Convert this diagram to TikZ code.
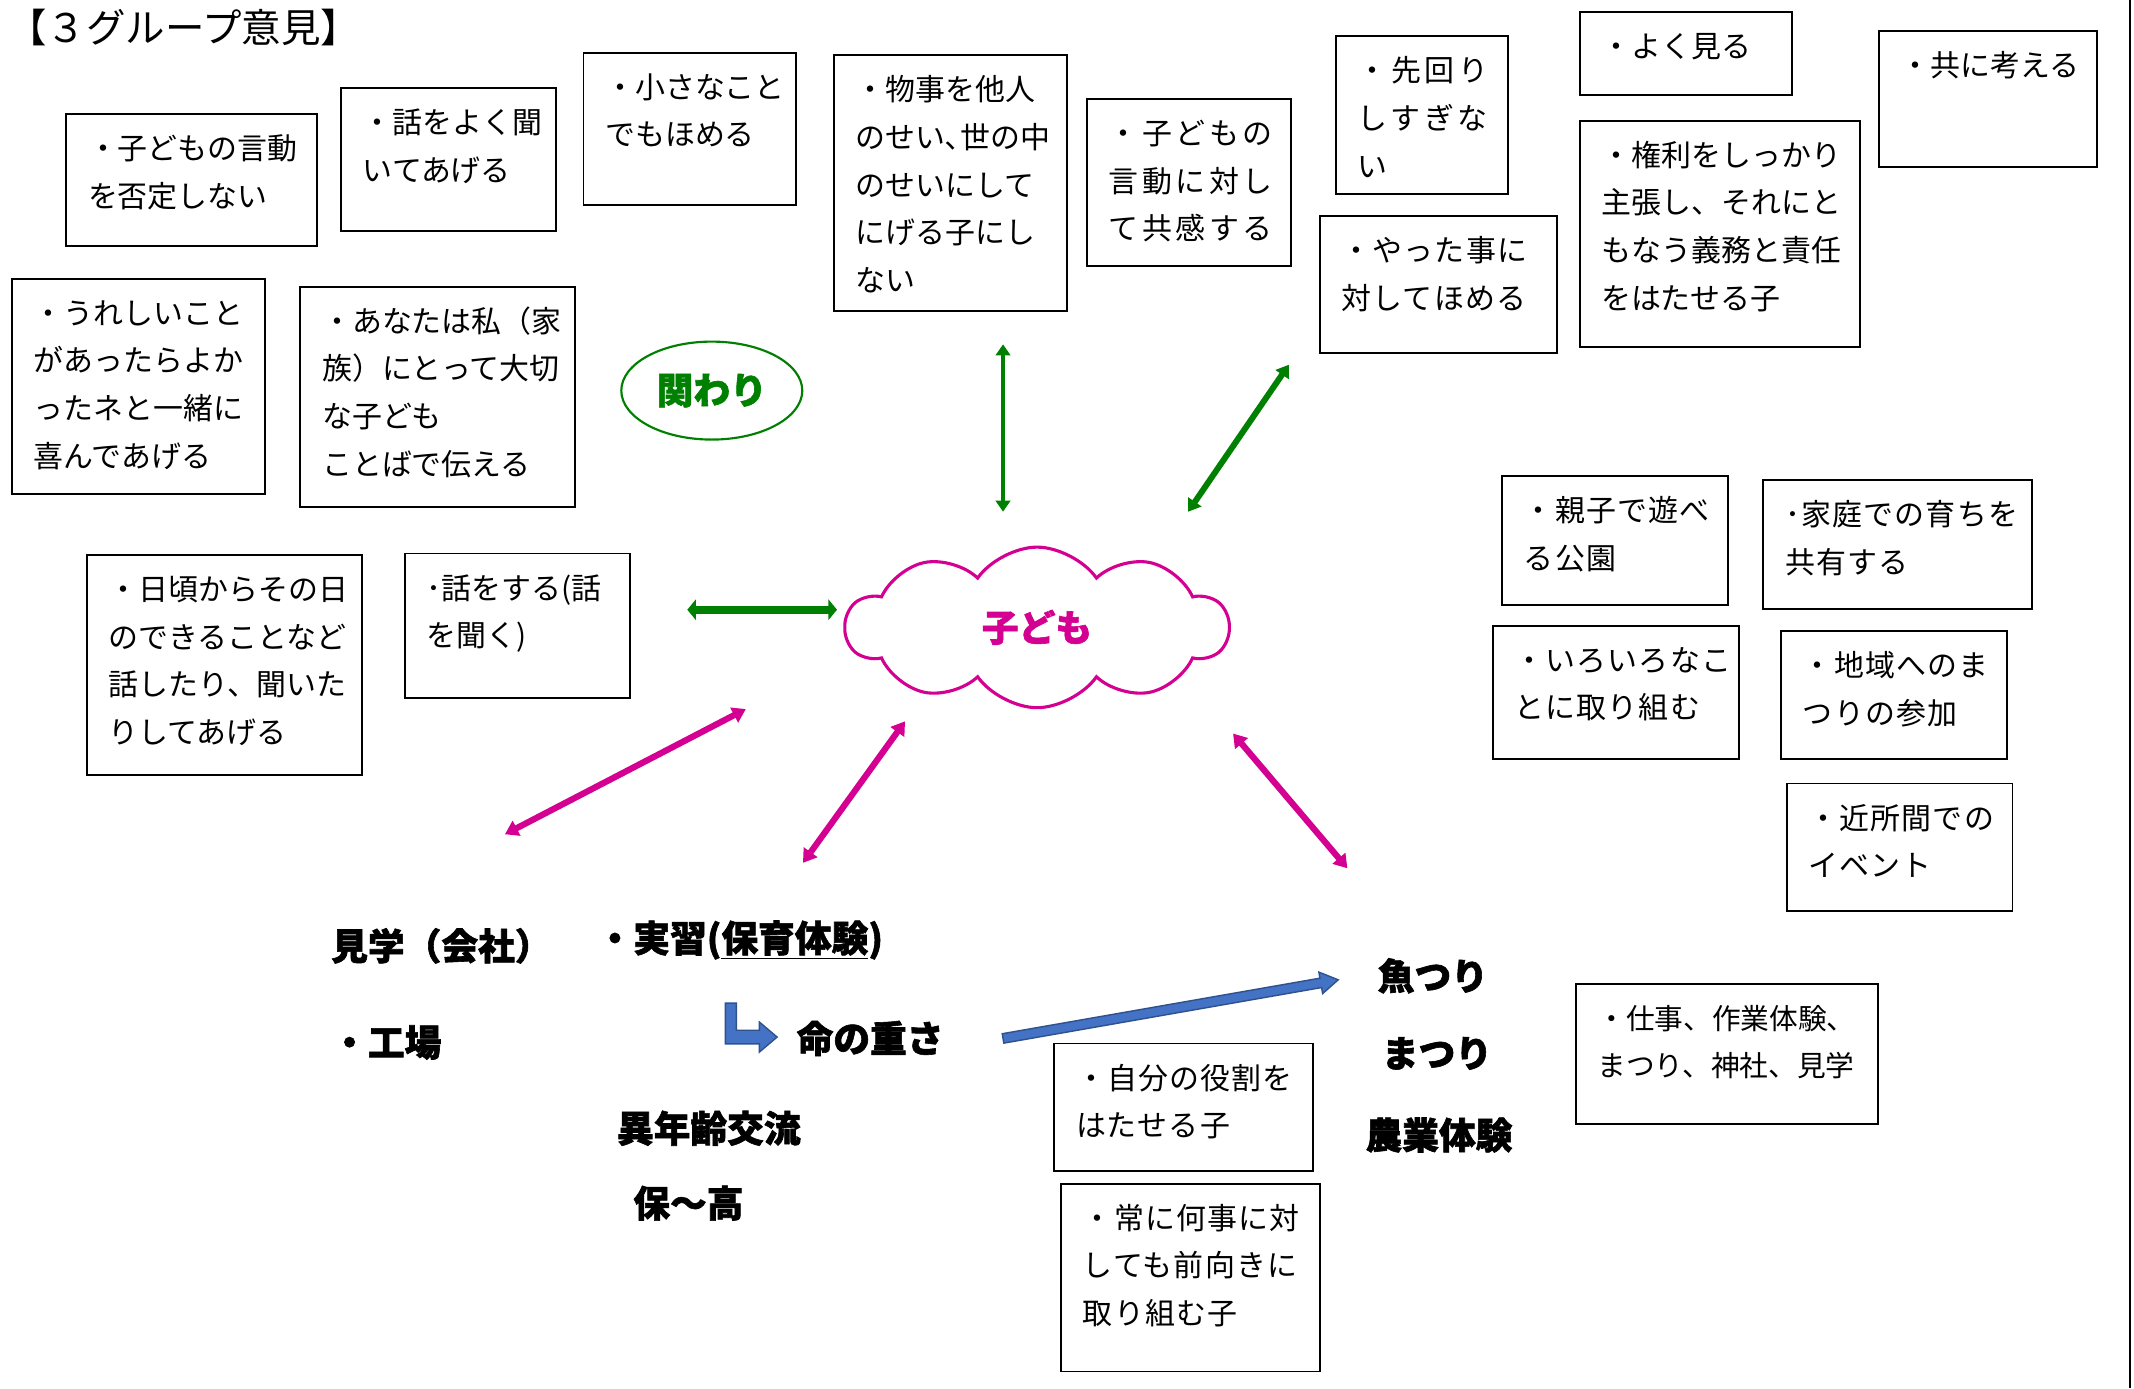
\documentclass[tikz,border=0pt]{standalone}
\usepackage{fontspec}
\setmainfont{Noto Sans CJK JP}[BoldFeatures={FakeBold=1.6}]
\newfontfamily\jsp{Noto Sans CJK JP}[LetterSpace=12]
\newfontfamily\jsq{Noto Sans CJK JP}[LetterSpace=4]
\usetikzlibrary{arrows.meta,shapes.geometric,shapes.symbols}
\newlength\un \setlength\un{0.02cm}
\definecolor{grn}{RGB}{0,128,0}
\definecolor{mag}{RGB}{212,0,145}
\definecolor{bfill}{RGB}{68,114,196}
\definecolor{bedge}{RGB}{47,82,143}
\newcommand\bx[3]{\parbox[c][\dimexpr#2\un-18\un\relax][t]{\dimexpr#1\un-32\un\relax}{\fontsize{12.52pt}{19.92pt}\selectfont\strut#3}}
\newcommand\bfj{\fontsize{15.36pt}{18pt}\selectfont\bfseries}
\tikzset{
  box/.style={draw, line width=0.8pt, inner xsep=0.32cm, inner ysep=0.18cm, anchor=north west},
  lbl/.style={anchor=west, inner sep=0pt, font=\bfj},
  garrv/.style={draw=grn, line width=1.9pt, >={Triangle[length=4.6pt,width=6pt]}, <->},
  garrd/.style={draw=grn, line width=2.5pt, >={Triangle[length=5pt,width=6.5pt]}, <->},
  garrh/.style={draw=grn, line width=3.4pt, >={Triangle[length=3.6pt,width=8.5pt]}, <->},
  marr/.style={draw=mag, line width=2.6pt, >={Triangle[length=5.5pt,width=6.8pt]}, <->}
}
\begin{document}
\begin{tikzpicture}[x=0.02cm,y=-0.02cm]
\fill[white] (0,0) rectangle (1568,1020);
\useasboundingbox (0,0) rectangle (1568,1020);
\draw[line width=1pt] (1565,0) -- (1565,1020);

% title
\node[anchor=west, inner sep=0pt, font=\fontsize{16.5pt}{20pt}\selectfont] (title) at (5,20) {【３グループ意見】};

% upper-left boxes
\node[box] (b1) at (48,83) {\bx{184}{97}{・子どもの言動\\を否定しない}};
\node[box] (b2) at (250,64) {\bx{158}{105}{・話をよく聞\\いてあげる}};
\node[box] (b3) at (428,38) {\bx{156}{112}{・小さなこと\\でもほめる}};
\node[box] (b4) at (612,40) {\bx{171}{188}{・物事を他人\\のせい､世の中\\のせいにして\\にげる子にし\\ない}};
\node[box] (b5) at (798,72) {\bx{150}{123}{\jsp ・子どもの\\言動に対し\\て共感する}};
\node[box] (b6) at (981,26) {\bx{126}{116}{\jsp ・先回り\\しすぎな\\い}};
\node[box] (b7) at (969,158) {\bx{174}{101}{\jsq ・やった事に\\対してほめる}};
\node[box] (b8) at (1160,8) {\bx{156}{61}{・よく見る}};
\node[box] (b9) at (1160,88) {\bx{206}{166}{・権利をしっかり\\主張し、それにと\\もなう義務と責任\\をはたせる子}};
\node[box] (b10) at (1380,22) {\bx{160}{100}{・共に考える}};
\node[box] (b11) at (8,204) {\bx{186}{158}{・うれしいこと\\があったらよか\\ったネと一緒に\\喜んであげる}};
\node[box] (b12) at (220,210) {\bx{202}{162}{・あなたは私（家\\族）にとって大切\\な子ども\\ことばで伝える}};
\node[box] (b14) at (63,407) {\bx{202}{162}{・日頃からその日\\のできることなど\\話したり、聞いた\\りしてあげる}};
\node[box] (b15) at (297,406) {\bx{165}{106}{･話をする(話\\を聞く)}};

% right boxes
\node[box] (b17) at (1103,349) {\bx{166}{95}{\jsq ・親子で遊べ\\る公園}};
\node[box] (b18) at (1295,352) {\bx{197}{95}{\jsq ･家庭での育ちを\\共有する}};
\node[box] (b19) at (1096,459) {\bx{181}{98}{\jsq ・いろいろなこ\\とに取り組む}};
\node[box] (b20) at (1308,463) {\bx{166}{94}{\jsq ・地域へのま\\つりの参加}};
\node[box] (b21) at (1312,575) {\bx{166}{94}{\jsq ・近所間での\\イベント}};
\node[box] (b22) at (1157,722) {\bx{222}{103}{\fontsize{12pt}{19.92pt}\selectfont ・仕事、作業体験、\\まつり、神社、見学}};
\node[box] (b23) at (774,766) {\bx{190}{94}{\jsq ・自分の役割を\\はたせる子}};
\node[box] (b24) at (779,869) {\bx{190}{138}{\jsq ・常に何事に対\\しても前向きに\\取り組む子}};

% ellipse and cloud
\node[ellipse, draw=grn, line width=0.9pt, minimum width=2.66cm, minimum height=1.44cm, inner sep=0pt, text=grn, font=\bfj] (kakawari) at (523,287) {関わり};
\node[cloud, draw=mag, line width=1.3pt, cloud puffs=10, cloud puff arc=110, aspect=2.4, minimum width=5.62cm, minimum height=2.36cm, inner sep=0pt, text=mag, font=\bfj] (kodomo) at (762,461) {子ども};

% bold labels
\node[lbl] (kengaku) at (243,695) {見学（会社）};
\node[lbl] (kojo) at (243,766) {・工場};
\node[lbl] (jisshu) at (438,691) {・実習(\underline{保育体験})};
\node[lbl] (inochi) at (585,763) {命の重さ};
\node[lbl] (inen) at (453,829) {異年齢交流};
\node[lbl] (hoko) at (465,884) {保～高};
\node[lbl] (sakana) at (1012,717) {魚つり};
\node[lbl] (matsuri) at (1015,774) {まつり};
\node[lbl] (nogyo) at (1003,834) {農業体験};

% arrow end points
\coordinate (gva) at (737,253); \coordinate (gvb) at (737,376);
\coordinate (gda) at (947,268); \coordinate (gdb) at (873,376);
\coordinate (gha) at (505,448); \coordinate (ghb) at (615,448);
\coordinate (m1a) at (548,521); \coordinate (m1b) at (371,613);
\coordinate (m2a) at (665,530); \coordinate (m2b) at (590,634);
\coordinate (m3a) at (906,539); \coordinate (m3b) at (990,638);
\coordinate (bls) at (737,763); \coordinate (ble) at (983,720);

\draw[garrv] (gva) -- (gvb);
\draw[garrd] (gda) -- (gdb);
\draw[garrh] (gha) -- (ghb);
\draw[marr] (m1a) -- (m1b);
\draw[marr] (m2a) -- (m2b);
\draw[marr] (m3a) -- (m3b);

% blue block arrow
\begin{scope}[shift={(bls)}, rotate=9.92]
\filldraw[fill=bfill, draw=bedge, line width=0.6pt] (0,-3.5) -- (237,-3.5) -- (237,-8) -- (250,0) -- (237,8) -- (237,3.5) -- (0,3.5) -- cycle;
\end{scope}

% bent blue arrow
\filldraw[fill=bfill, draw=bedge, line width=0.6pt] (533,737) -- (541,737) -- (541,757) -- (558,757) -- (558,751) -- (571,762) -- (558,773) -- (558,767) -- (533,767) -- cycle;
\end{tikzpicture}
\end{document}
